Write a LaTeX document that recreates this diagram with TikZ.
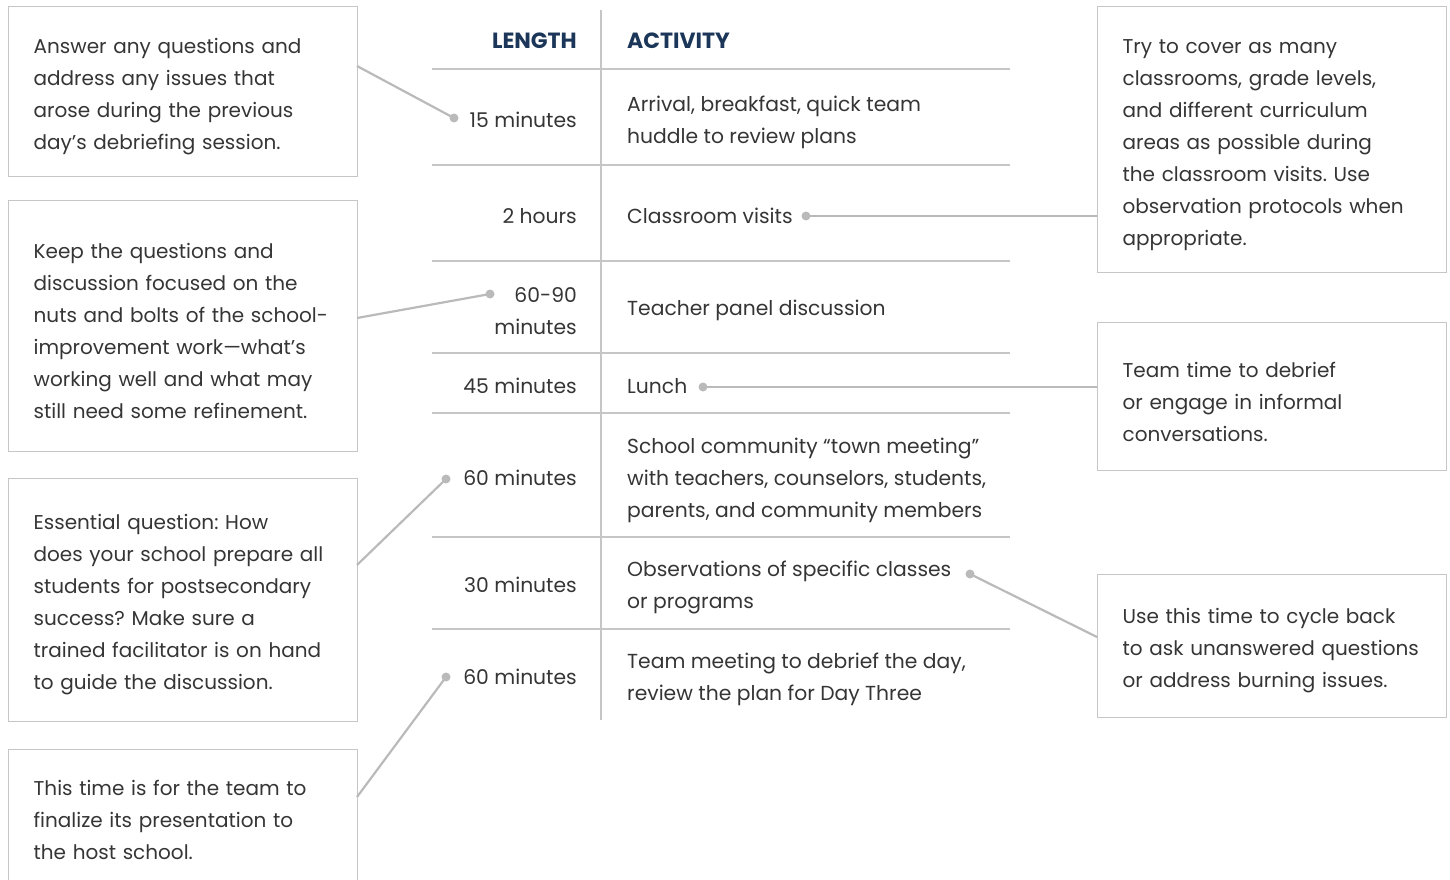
\documentclass[tikz,border=0pt]{standalone}
\usepackage{fontspec}
\setmainfont{Poppins}
\usetikzlibrary{positioning}
\definecolor{ink}{HTML}{353535}
\definecolor{navy}{HTML}{1B3658}
\definecolor{rulegray}{HTML}{C6C6C6}
\definecolor{linkgray}{HTML}{BABABA}
\newcommand{\notefont}{\fontsize{20}{32}\selectfont}
\newcommand{\rowfont}{\fontsize{20.3}{32}\selectfont}
\frenchspacing

\begin{document}
\begin{tikzpicture}[x=1pt,y=-1pt]

    \tikzset{
      note/.style={
        draw=rulegray,
        line width=1.3pt,
        anchor=north west,
        minimum width=349pt,
        text width=299pt,
        inner xsep=25pt,
        inner ysep=0pt,
        align=left,
        text=ink,
        font=\notefont,
        execute at begin node={\rule{0pt}{#1}},
      },
      note/.default=25pt,
      len/.style={anchor=east, align=right, inner sep=0pt, text=ink, font=\rowfont},
      act/.style={anchor=west, align=left, inner sep=0pt, text=ink, font=\rowfont},
      head/.style={inner sep=0pt, text=navy, font=\fontsize{22}{26}\selectfont\bfseries},
      dot/.style={circle, fill=linkgray, inner sep=0pt, minimum size=9pt},
      link/.style={draw=linkgray, line width=2.2pt},
      rule/.style={draw=rulegray, line width=1.3pt},
    }
    \useasboundingbox (0,0) rectangle (1450,880);

    % table
    \draw[rule] (601,10)--(601,720);
    \foreach \y in {69,165,261,353,413,537,629}
      \draw[rule] (432,\y)--(1010,\y);
    \node[head, anchor=east] (hlen) at (577,41) {LENGTH};
    \node[head, anchor=west] (hact) at (627,41) {ACTIVITY};

    \node[len] (l1) at (577,120) {15 minutes};
    \node[len] (l2) at (577,216) {2 hours};
    \node[len] (l3) at (577,311) {60-90\\minutes};
    \node[len] (l4) at (577,386) {45 minutes};
    \node[len] (l5) at (577,478) {60 minutes};
    \node[len] (l6) at (577,585) {30 minutes};
    \node[len] (l7) at (577,677) {60 minutes};

    \node[act] (a1) at (627,122) {Arrival, breakfast, quick team\\huddle to review plans};
    \node[act] (a2) at (627,216) {Classroom visits};
    \node[act] (a3) at (627,310) {Teacher panel discussion};
    \node[act] (a4) at (627,386) {Lunch};
    \node[act] (a5) at (627,480) {School community “town meeting”\\with teachers, counselors, students,\\parents, and community members};
    \node[act] (a6) at (627,587) {Observations of specific classes\\or programs};
    \node[act] (a7) at (627,679) {Team meeting to debrief the day,\\review the plan for Day Three};

    % notes
    \node[note, minimum height=170pt] (n1) at (8,6) {Answer any questions and\\address any issues that\\arose during the previous\\day’s debriefing session.};
    \node[note, minimum height=251pt] (n2) at (8,200) {Keep the questions and\\discussion focused on the\\nuts and bolts of the school-\\improvement work—what’s\\working well and what may\\still need some refinement.};
    \node[note, minimum height=243pt] (n3) at (8,478) {Essential question: How\\does your school prepare all\\students for postsecondary\\success? Make sure a\\trained facilitator is on hand\\to guide the discussion.};
    \node[note=0pt, minimum height=140pt] (n4) at (8,749) {This time is for the team to\\finalize its presentation to\\the host school.};
    \node[note, minimum height=266pt] (n5) at (1097,6) {Try to cover as many\\classrooms, grade levels,\\and different curriculum\\areas as possible during\\the classroom visits. Use\\observation protocols when\\appropriate.};
    \node[note, minimum height=148pt] (n6) at (1097,322) {Team time to debrief\\or engage in informal\\conversations.};
    \node[note, minimum height=143pt] (n7) at (1097,574) {Use this time to cycle back\\to ask unanswered questions\\or address burning issues.};

    % connectors
    \node[dot] (d1) at (454,118) {};
    \node[dot] (d2) at (490,294) {};
    \node[dot] (d3) at (446,479) {};
    \node[dot] (d4) at (446,677) {};
    \node[dot] (d5) at (806,216) {};
    \node[dot] (d6) at (703,387) {};
    \node[dot] (d7) at (970,574) {};
    \coordinate (e1) at (357,66);
    \coordinate (e2) at (357,318);
    \coordinate (e3) at (357,565);
    \coordinate (e4) at (357,797);
    \coordinate (e7) at (1097,637);

    \draw[link] (e1)--(d1.center);
    \draw[link] (e2)--(d2.center);
    \draw[link] (e3)--(d3.center);
    \draw[link] (e4)--(d4.center);
    \draw[link] (d5.center)--(d5 -| n5.west);
    \draw[link] (d6.center)--(d6 -| n6.west);
    \draw[link] (d7.center)--(e7);

\end{tikzpicture}
\end{document}
